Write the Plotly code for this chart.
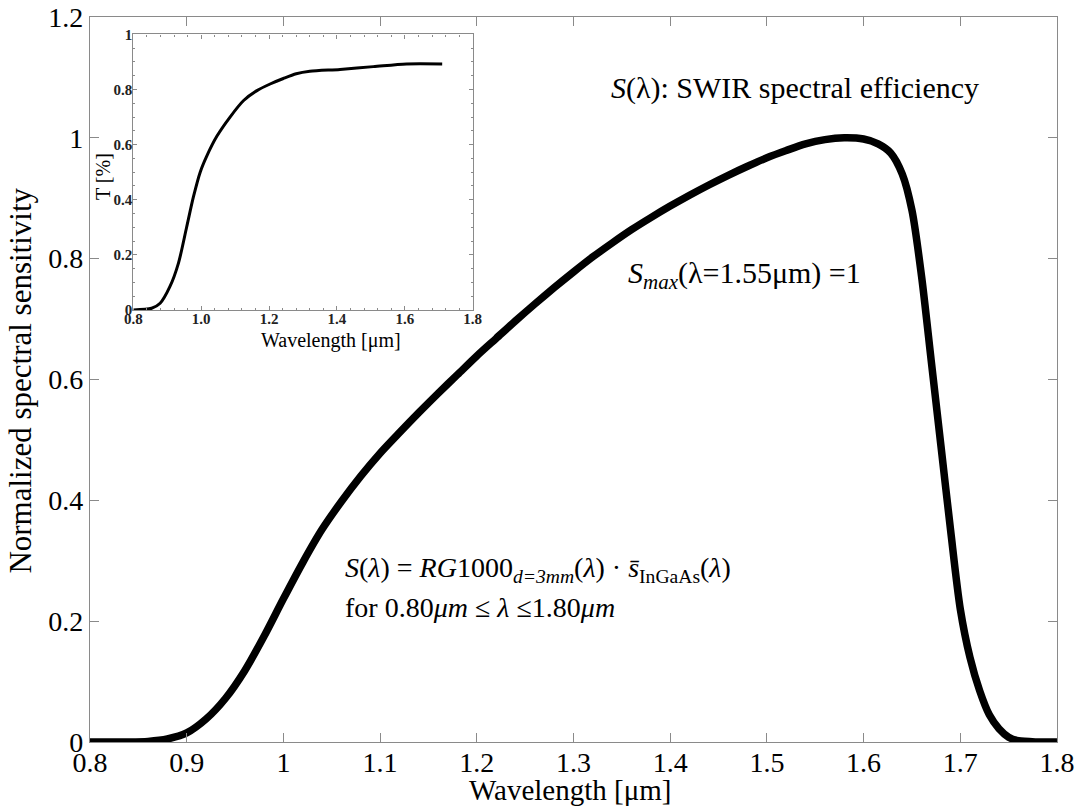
import plotly.graph_objects as go

# ---------------- data ----------------
wavelength = [0.80, 0.82, 0.84, 0.86, 0.88, 0.90, 0.92, 0.94, 0.96, 0.98, 1.00, 1.02,
              1.04, 1.06, 1.08, 1.10, 1.12, 1.14, 1.16, 1.18, 1.20, 1.22, 1.24, 1.26,
              1.28, 1.30, 1.32, 1.34, 1.36, 1.38, 1.40, 1.42, 1.44, 1.46, 1.48, 1.50,
              1.52, 1.54, 1.56, 1.58, 1.60, 1.615, 1.628, 1.64, 1.65, 1.66, 1.67, 1.68,
              1.69, 1.70, 1.71, 1.72, 1.73, 1.74, 1.75, 1.76, 1.78, 1.80]
sensitivity = [0.0, 0.0, 0.0, 0.001, 0.005, 0.015, 0.038, 0.072, 0.118, 0.175, 0.237, 0.297,
               0.352, 0.398, 0.44, 0.478, 0.512, 0.545, 0.577, 0.608, 0.639, 0.668, 0.697, 0.725,
               0.752, 0.778, 0.803, 0.826, 0.848, 0.868, 0.887, 0.905, 0.922, 0.938, 0.953, 0.967,
               0.979, 0.99, 0.997, 1.0, 0.998, 0.99, 0.975, 0.94, 0.88, 0.77, 0.63, 0.49,
               0.35, 0.22, 0.14, 0.085, 0.045, 0.022, 0.008, 0.002, 0.0, 0.0]

inset_wavelength = [0.80, 0.854, 0.879, 0.908, 0.933, 0.957, 0.977, 0.997, 1.017, 1.046,
                    1.085, 1.125, 1.163, 1.203, 1.242, 1.28, 1.32, 1.409, 1.507, 1.605, 1.71]
inset_transmission = [0.0, 0.006, 0.024, 0.085, 0.17, 0.30, 0.41, 0.50, 0.56, 0.63,
                      0.70, 0.76, 0.795, 0.82, 0.84, 0.857, 0.866, 0.873, 0.883, 0.893, 0.893]

main_x_ticks = [0.8, 0.9, 1.0, 1.1, 1.2, 1.3, 1.4, 1.5, 1.6, 1.7, 1.8]
main_x_ticktext = ["0.8", "0.9", "1", "1.1", "1.2", "1.3", "1.4", "1.5", "1.6", "1.7", "1.8"]
main_y_ticks = [0, 0.2, 0.4, 0.6, 0.8, 1.0, 1.2]
main_y_ticktext = ["0", "0.2", "0.4", "0.6", "0.8", "1", "1.2"]
inset_x_ticks = [0.8, 1.0, 1.2, 1.4, 1.6, 1.8]
inset_x_ticktext = ["0.8", "1.0", "1.2", "1.4", "1.6", "1.8"]
inset_y_ticks = [0, 0.2, 0.4, 0.6, 0.8, 1.0]
inset_y_ticktext = ["0", "0.2", "0.4", "0.6", "0.8", "1"]

FONT = "Liberation Serif"
AXIS_GREY = "#8a8a8a"

fig = go.Figure()
fig.add_trace(go.Scatter(x=wavelength, y=sensitivity, mode="lines",
                         line=dict(color="black", width=7.5, shape="spline", smoothing=0.8),
                         xaxis="x", yaxis="y", showlegend=False))
fig.add_trace(go.Scatter(x=inset_wavelength, y=inset_transmission, mode="lines",
                         line=dict(color="black", width=3, shape="spline", smoothing=0.8),
                         xaxis="x2", yaxis="y2", showlegend=False))

main_axis = dict(showline=True, linecolor=AXIS_GREY, linewidth=1.2, mirror="ticks",
                 ticks="inside", ticklen=9, tickcolor=AXIS_GREY, tickwidth=1.2,
                 showgrid=False, zeroline=False, automargin=False,
                 tickfont=dict(family=FONT, size=28, color="black"))

inset_axis = dict(showline=True, linecolor=AXIS_GREY, linewidth=1.2, mirror="ticks",
                  ticks="inside", ticklen=4, tickcolor=AXIS_GREY, tickwidth=1,
                  showgrid=False, zeroline=False, automargin=False,
                  tickfont=dict(family=FONT, size=15, color="#222222", weight="bold"))

fig.update_layout(
    width=1082, height=809, autosize=False,
    margin=dict(l=90, r=25, t=17, b=67, pad=0),
    paper_bgcolor="white", plot_bgcolor="white",
    showlegend=False,
    font=dict(family=FONT, color="black"),
    xaxis=dict(domain=[0, 1], range=[0.8, 1.8], tickvals=main_x_ticks,
               ticktext=main_x_ticktext, anchor="y", ticklabelstandoff=-5, **main_axis),
    yaxis=dict(domain=[0, 1], range=[0, 1.2], tickvals=main_y_ticks,
               ticktext=main_y_ticktext, anchor="x", **main_axis),
    xaxis2=dict(domain=[0.0448, 0.3958], range=[0.8, 1.8], tickvals=inset_x_ticks,
                ticktext=inset_x_ticktext, anchor="y2",
                minor=dict(ticks="inside", ticklen=2, dtick=0.04, tickcolor=AXIS_GREY),
                ticklabelstandoff=-5, **inset_axis),
    yaxis2=dict(domain=[0.596, 0.976], range=[0, 1], tickvals=inset_y_ticks,
                ticktext=inset_y_ticktext, anchor="x2",
                minor=dict(ticks="inside", ticklen=2, dtick=0.05, tickcolor=AXIS_GREY),
                ticklabelstandoff=-3, **inset_axis),
)

annotations = [
    # main axis titles
    dict(text="Wavelength [μm]", xref="paper", yref="paper", x=0.496, y=-0.066,
         xanchor="center", yanchor="middle", showarrow=False,
         font=dict(family=FONT, size=29)),
    dict(text="Normalized spectral sensitivity", xref="paper", yref="paper",
         x=-0.072, y=0.499, xanchor="center", yanchor="middle", textangle=-90,
         showarrow=False, font=dict(family=FONT, size=31)),
    # inset axis titles
    dict(text="Wavelength [μm]", xref="paper", yref="paper",
         x=(331 - 90) / 967, y=(742 - 340) / 725, xanchor="center", yanchor="middle",
         showarrow=False, font=dict(family=FONT, size=20)),
    dict(text="T [%]", xref="paper", yref="paper",
         x=(103 - 90) / 967, y=(742 - 177) / 725, xanchor="center", yanchor="middle",
         textangle=-90, showarrow=False, font=dict(family=FONT, size=20)),
    # chart annotations
    dict(text="<i>S</i>(λ): SWIR spectral efficiency", x=1.529, y=1.082,
         xref="x", yref="y", xanchor="center", yanchor="middle", showarrow=False,
         font=dict(family=FONT, size=30)),
    dict(text="<i>S<sub>max</sub></i>(λ=1.55μm) =1", x=1.477, y=0.773,
         xref="x", yref="y", xanchor="center", yanchor="middle", showarrow=False,
         font=dict(family=FONT, size=30)),
    dict(text="<i>S</i>(<i>λ</i>) = <i>RG</i>1000<sub><i>d=3mm</i></sub>(<i>λ</i>) · "
              "<i>s\u0304</i><sub>InGaAs</sub>(<i>λ</i>)",
         x=1.062, y=0.285, xref="x", yref="y", xanchor="left", yanchor="middle",
         showarrow=False, font=dict(family=FONT, size=28)),
    dict(text="for 0.80<i>μm</i> ≤ <i>λ</i> ≤1.80<i>μm</i>",
         x=1.062, y=0.222, xref="x", yref="y", xanchor="left", yanchor="middle",
         showarrow=False, font=dict(family=FONT, size=28)),
]
fig.update_layout(annotations=annotations)

fig.write_html("out.html", config={"displayModeBar": False},
               post_script="document.body.style.margin='0';")
